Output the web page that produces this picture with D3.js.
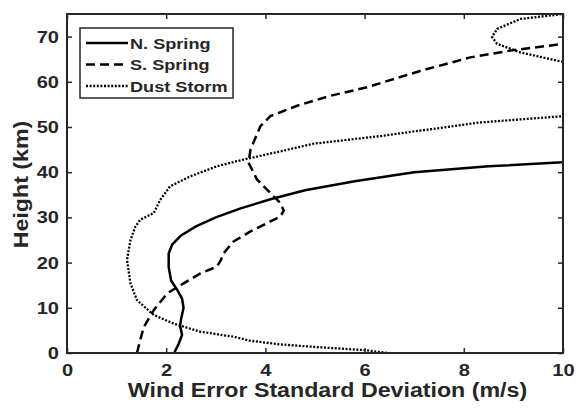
<!DOCTYPE html>
<html>
<head>
<meta charset="utf-8">
<script src="https://cdn.jsdelivr.net/npm/d3@7"></script>
<style>
  body { margin: 0; background: #fff; }
  text { font-family: "Liberation Sans", Arial, sans-serif; font-weight: bold; fill: #262626; }
</style>
</head>
<body>
<div id="chart"></div>
<script>
// wind error std dev (m/s) vs height (km)
const nSpring = [
  [2.16, 0], [2.25, 2], [2.32, 4], [2.28, 6], [2.30, 7.5], [2.35, 10], [2.32, 12],
  [2.22, 14], [2.1, 16], [2.05, 19], [2.05, 22], [2.12, 24], [2.3, 26], [2.6, 28],
  [3.0, 30], [3.5, 32], [4.1, 34], [4.8, 36], [5.8, 38], [7.0, 40], [8.5, 41.3], [10, 42.2]
];
const sSpring = [
  [1.41, 0], [1.48, 3], [1.55, 5.8], [1.75, 9.5], [2.02, 13.2], [2.35, 15.4], [2.69, 17.6],
  [3.02, 19.1], [3.1, 20.5], [3.16, 22.1], [3.36, 24.7], [3.7, 26.9], [4.1, 29.1], [4.3, 30.2],
  [4.37, 31.5], [4.3, 33.2], [4.1, 35.4], [3.83, 38.4], [3.66, 42.1], [3.7, 45], [3.9, 50.2],
  [4.1, 52.4], [4.64, 54.7], [5.31, 56.9], [6.05, 58.8], [7.12, 62.4], [8.13, 65.4],
  [8.94, 66.9], [10, 68.4]
];
const dustStorm = [
  [6.45, 0], [6.05, 0.6], [5.04, 1.3], [4.3, 1.9], [3.7, 2.7], [3.36, 3.6], [2.69, 4.7],
  [2.15, 6.5], [1.75, 8.4], [1.41, 11.7], [1.28, 15.4], [1.21, 20.6], [1.28, 25], [1.38, 28],
  [1.48, 29.5], [1.75, 31], [1.88, 33.9], [2.08, 36.9], [2.49, 39.1], [3.02, 41.3], [3.56, 42.8],
  [4.3, 44.6], [4.97, 46.3], [6.32, 48], [8.33, 51], [10, 52.4],
  null,
  [10, 64.4], [9.14, 66.5], [8.67, 68.4], [8.57, 69.9], [8.67, 71.7], [9.14, 73.9], [10, 75]
];
const xTicks = [0, 2, 4, 6, 8, 10];
const yTicks = [0, 10, 20, 30, 40, 50, 60, 70];

const series = [
  { name: "N. Spring", data: nSpring, dash: null, w: 2.5 },
  { name: "S. Spring", data: sSpring, dash: "9,5", w: 2.5 },
  { name: "Dust Storm", data: dustStorm, dash: "2,1.6", w: 2.3 }
];

const W = 576, H = 409;
const margin = { top: 14, right: 13, bottom: 56, left: 67 };
const width = W - margin.left - margin.right;
const height = H - margin.top - margin.bottom;
const stretch = 1.18; // reference glyphs are wider than Liberation Sans

const svg = d3.select("#chart").append("svg")
  .attr("width", W).attr("height", H);

const g = svg.append("g")
  .attr("transform", `translate(${margin.left},${margin.top})`);

const x = d3.scaleLinear().domain([0, 10]).range([0, width]);
const y = d3.scaleLinear().domain([0, 75]).range([height, 0]);

g.append("clipPath").attr("id", "clip")
  .append("rect").attr("width", width).attr("height", height);

const line = d3.line()
  .defined(d => d != null)
  .x(d => x(d[0]))
  .y(d => y(d[1]));

const lines = g.append("g").attr("clip-path", "url(#clip)");
series.forEach(s => {
  lines.append("path")
    .datum(s.data)
    .attr("fill", "none")
    .attr("stroke", "#000")
    .attr("stroke-width", s.w)
    .attr("stroke-dasharray", s.dash)
    .attr("d", line);
});

// axes with inward ticks, box style
const tick = 5;
const axStyle = sel => {
  sel.select(".domain").remove();
  sel.selectAll(".tick line").attr("stroke", "#262626").attr("stroke-width", 1.5);
  sel.selectAll("text")
    .style("font-size", "17px").attr("fill", "#262626")
    .each(function() {
      const t = d3.select(this);
      const tx = +t.attr("x") || 0;
      t.attr("x", 0).attr("transform", `translate(${tx},0) scale(${stretch},1)`);
    });
};

g.append("g").attr("transform", `translate(0,${height})`)
  .call(d3.axisBottom(x).tickValues(xTicks).tickSize(-tick).tickPadding(11))
  .call(axStyle);
g.append("g")
  .call(d3.axisTop(x).tickValues(xTicks).tickSize(-tick).tickFormat(""))
  .call(axStyle);
g.append("g")
  .call(d3.axisLeft(y).tickValues(yTicks).tickSize(-tick).tickPadding(8))
  .call(axStyle);
g.append("g").attr("transform", `translate(${width},0)`)
  .call(d3.axisRight(y).tickValues(yTicks).tickSize(-tick).tickFormat(""))
  .call(axStyle);

g.append("rect")
  .attr("width", width).attr("height", height)
  .attr("fill", "none").attr("stroke", "#262626").attr("stroke-width", 2);

// axis labels
svg.append("text")
  .attr("transform", `translate(327.5,397) scale(1.19,1)`)
  .attr("text-anchor", "middle").style("font-size", "19.5px")
  .text("Wind Error Standard Deviation (m/s)");

svg.append("text")
  .attr("transform", `translate(28,184.5) rotate(-90) scale(${stretch - 0.02},1)`)
  .attr("text-anchor", "middle").style("font-size", "20px")
  .text("Height (km)");

// legend
const lg = svg.append("g").attr("transform", "translate(80,28)");
lg.append("rect").attr("width", 153).attr("height", 70)
  .attr("fill", "#fff").attr("stroke", "#262626").attr("stroke-width", 1.5);
series.forEach((s, i) => {
  const yy = 15 + i * 21.5;
  lg.append("line")
    .attr("x1", 6).attr("x2", 48).attr("y1", yy).attr("y2", yy)
    .attr("stroke", "#000").attr("stroke-width", s.w)
    .attr("stroke-dasharray", s.dash);
  lg.append("text")
    .attr("transform", `translate(50,${yy + 5.5}) scale(${stretch - 0.01},1)`)
    .style("font-size", "15.5px").attr("fill", "#000")
    .text(s.name);
});
</script>
</body>
</html>
